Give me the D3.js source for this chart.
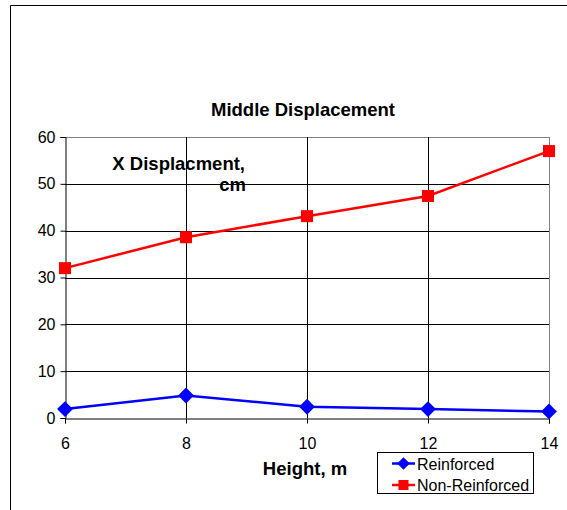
<!DOCTYPE html>
<html><head><meta charset="utf-8">
<script src="https://cdn.jsdelivr.net/npm/d3@7"></script>
<style>body{margin:0;background:#fff}svg{display:block}text{font-family:"Liberation Sans",Arial,sans-serif}</style>
</head><body>
<svg id="c" width="567" height="510"></svg>
<script>
const heights = [6, 8, 10, 12, 14];
const reinforced = [1.9, 4.8, 2.4, 1.9, 1.4];
const nonReinforced = [32.0, 38.6, 43.1, 47.4, 57.0];
const yTicks = [0, 10, 20, 30, 40, 50, 60];
const xTicks = [6, 8, 10, 12, 14];

const svg = d3.select("#c");
// outer frame
svg.append("path").attr("d","M10.5,510 V5.5 H567").attr("fill","none").attr("stroke","#000").attr("stroke-width",1);

const x = d3.scaleLinear().domain([6,14]).range([65,549]);
const y = d3.scaleLinear().domain([0,60]).range([418,137]);

// grid
svg.append("g").selectAll("line").data(yTicks.slice(1)).join("line")
  .attr("x1",65).attr("x2",549).attr("y1",d=>Math.round(y(d))+0.5).attr("y2",d=>Math.round(y(d))+0.5)
  .attr("stroke",d=>d===60?"#808080":"#000").attr("stroke-width",1);
svg.append("g").selectAll("line").data(xTicks.slice(1)).join("line")
  .attr("y1",137).attr("y2",418).attr("x1",d=>Math.round(x(d))+0.5).attr("x2",d=>Math.round(x(d))+0.5)
  .attr("stroke",d=>d===14?"#808080":"#000").attr("stroke-width",1);

// axes
const yAxis = svg.append("g").attr("transform","translate(65.5,0)")
  .call(d3.axisLeft(y).tickValues(yTicks).tickSize(5).tickPadding(5).tickFormat(d3.format("d")));
yAxis.select(".domain").attr("stroke","#000");
yAxis.selectAll("text").attr("font-size",16).attr("fill","#000");
const xAxis = svg.append("g").attr("transform","translate(0,418.5)")
  .call(d3.axisBottom(x).tickValues(xTicks).tickSize(5).tickPadding(14).tickFormat(d3.format("d")));
xAxis.select(".domain").attr("stroke","#000");
xAxis.selectAll("text").attr("font-size",16).attr("fill","#000");

// lines
const line = d3.line().x((d,i)=>x(heights[i])).y(d=>y(d));
svg.append("path").datum(nonReinforced).attr("d",line).attr("fill","none").attr("stroke","#ff0000").attr("stroke-width",2.5);
svg.append("path").datum(reinforced).attr("d",line).attr("fill","none").attr("stroke","#0000ff").attr("stroke-width",2.5);

svg.append("g").selectAll("rect").data(nonReinforced).join("rect")
  .attr("x",(d,i)=>x(heights[i])-6).attr("y",d=>y(d)-6).attr("width",12).attr("height",12).attr("fill","#ff0000");
const diamond = d3.symbol().type(d3.symbolDiamond2).size(160);
svg.append("g").selectAll("path").data(reinforced).join("path")
  .attr("d",diamond).attr("transform",(d,i)=>`translate(${x(heights[i])},${y(d)})`).attr("fill","#0000ff");

// titles
svg.append("text").attr("x",303).attr("y",116).attr("text-anchor","middle").attr("font-size",18.5).attr("font-weight","bold").text("Middle Displacement");
svg.append("text").attr("x",245).attr("y",170).attr("text-anchor","end").attr("font-size",18.5).attr("font-weight","bold").text("X Displacment,");
svg.append("text").attr("x",246).attr("y",191).attr("text-anchor","end").attr("font-size",18.5).attr("font-weight","bold").text("cm");
svg.append("text").attr("x",305).attr("y",475).attr("text-anchor","middle").attr("font-size",18.5).attr("font-weight","bold").text("Height, m");

// legend
const lg = svg.append("g");
lg.append("rect").attr("x",377.5).attr("y",452.5).attr("width",156).attr("height",41).attr("fill","#fff").attr("stroke","#000");
const items = [{name:"Reinforced",color:"#0000ff",sym:"d"},{name:"Non-Reinforced",color:"#ff0000",sym:"s"}];
items.forEach((it,i)=>{
  const cy = 463.5 + i*21.5;
  lg.append("line").attr("x1",392).attr("x2",415).attr("y1",cy).attr("y2",cy).attr("stroke",it.color).attr("stroke-width",2.5);
  if(it.sym==="s") lg.append("rect").attr("x",398.5).attr("y",cy-5).attr("width",10).attr("height",10).attr("fill",it.color);
  else lg.append("path").attr("d",d3.symbol().type(d3.symbolDiamond2).size(100)).attr("transform",`translate(403.5,${cy})`).attr("fill",it.color);
  lg.append("text").attr("x",417).attr("y",cy+6).attr("font-size",16).text(it.name);
});
</script>
</body></html>
